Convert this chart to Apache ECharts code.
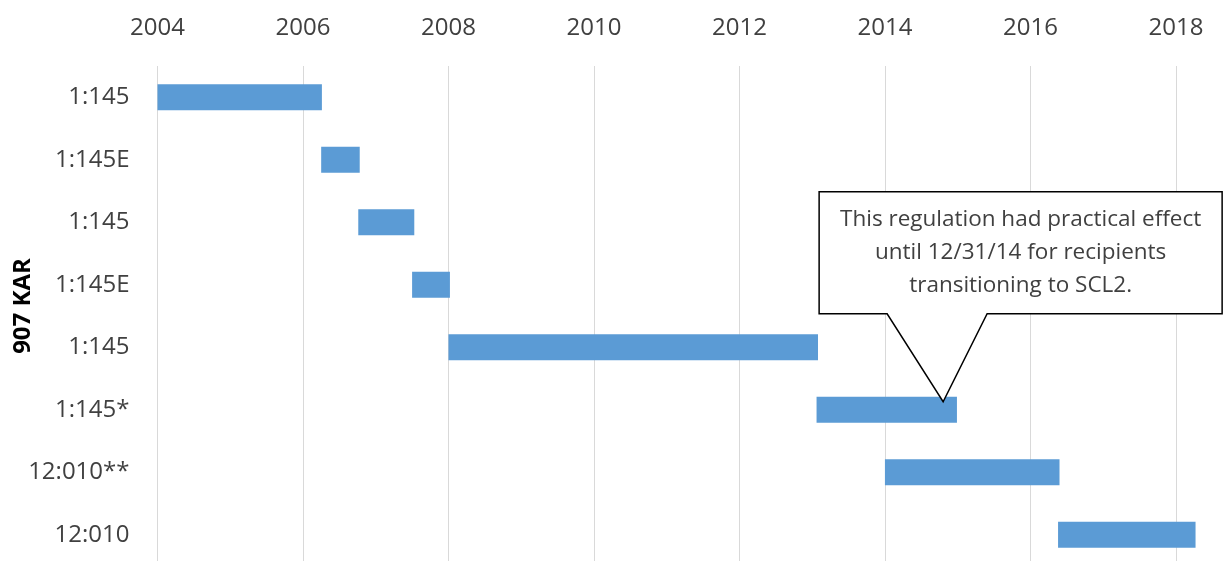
<!DOCTYPE html>
<html>
<head>
<meta charset="utf-8">
<script src="https://cdn.jsdelivr.net/npm/echarts@6/dist/echarts.min.js"></script>
<style>html,body{margin:0;padding:0;background:#fff}#c{width:1225px;height:561px}</style>
</head>
<body>
<div id="c"></div>
<script>
// Categories (top to bottom)
const categories = ['1:145', '1:145E', '1:145', '1:145E', '1:145', '1:145*', '12:010**', '12:010'];
// Start and end (decimal years)
const startYears = [2004.0, 2006.25, 2006.76, 2007.5, 2008.0, 2013.06, 2014.0, 2016.38];
const endYears   = [2006.26, 2006.78, 2007.53, 2008.02, 2013.08, 2014.99, 2016.4, 2018.27];
const yearTicks = [2004, 2006, 2008, 2010, 2012, 2014, 2016, 2018];
const axisTitle = '907 KAR';
const calloutLines = ['This regulation had practical effect', 'until 12/31/14 for recipients', 'transitioning to SCL2.'];
const calloutYear = 2014.8;
const calloutRow = 5;

const durations = startYears.map((s, i) => +(endYears[i] - s).toFixed(3));
const FONT = '"Open Sans", "Noto Sans", sans-serif';

const chart = echarts.init(document.getElementById('c'), null, {renderer: 'canvas'});
chart.setOption({
  animation: false,
  grid: {left: 157.5, right: 20, top: 66, height: 500, containLabel: false, outerBoundsMode: 'none'},
  xAxis: {
    type: 'value', position: 'top',
    min: yearTicks[0], max: 2018.4, interval: 2,
    axisLine: {show: false}, axisTick: {show: false},
    axisLabel: {fontSize: 24, color: '#404040', fontFamily: FONT, margin: 26, showMaxLabel: false,
      formatter: v => yearTicks.includes(v) ? String(v) : ''},
    splitLine: {show: true, showMaxLine: false, lineStyle: {color: '#d9d9d9', width: 1}}
  },
  yAxis: {
    type: 'category', inverse: true, data: categories,
    axisLine: {show: false}, axisTick: {show: false},
    axisLabel: {fontSize: 24, color: '#404040', fontFamily: FONT, margin: 28}
  },
  series: [
    {type: 'bar', stack: 't', data: startYears, barWidth: 26, itemStyle: {color: 'rgba(0,0,0,0)'}, silent: true},
    {type: 'bar', stack: 't', data: durations, barWidth: 26, itemStyle: {color: '#5B9BD5'}}
  ]
});

const tip = chart.convertToPixel({xAxisIndex: 0, yAxisIndex: 0}, [calloutYear, calloutRow]);
const tx = tip[0], ty = tip[1] - 8;
const L = tx - 124, R = tx + 279, T = ty - 210, B = ty - 88;
chart.setOption({
  graphic: [
    {type: 'text', x: 23, y: 306, rotation: Math.PI / 2,
      style: {text: axisTitle, fontSize: 24, fontWeight: 'bold', fill: '#000', fontFamily: FONT,
        align: 'center', verticalAlign: 'middle'}},
    {type: 'polygon', z: 100,
      shape: {points: [[L, T], [R, T], [R, B], [tx + 44, B], [tx, ty], [tx - 56, B], [L, B]]},
      style: {fill: '#fff', stroke: '#000', lineWidth: 1.5}},
    {type: 'text', z: 101, x: (L + R) / 2, y: (T + B) / 2,
      style: {text: calloutLines.join('\n'), fontSize: 22.5, lineHeight: 33, fill: '#404040',
        fontFamily: FONT, align: 'center', verticalAlign: 'middle'}}
  ]
});
</script>
</body>
</html>
